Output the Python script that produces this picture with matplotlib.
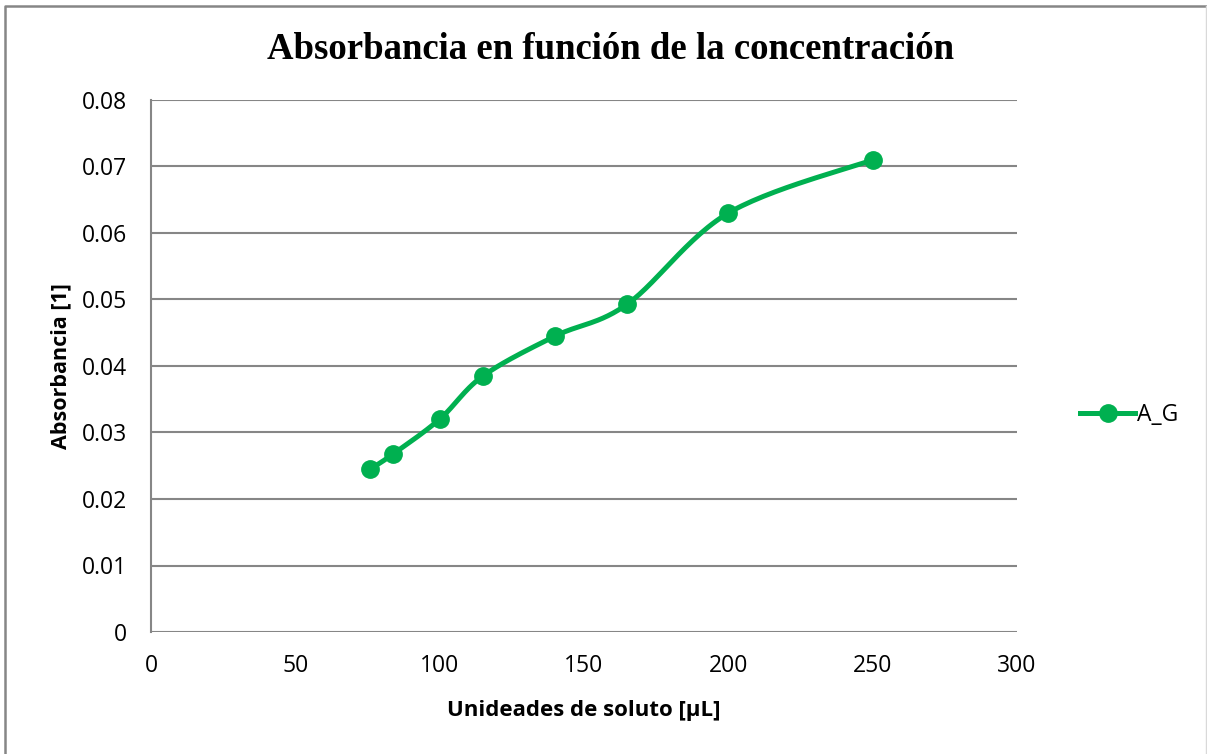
import numpy as np
import matplotlib.pyplot as plt
from matplotlib.lines import Line2D

# datos medidos
soluto = [76, 84, 100, 115, 140, 165, 200, 250]
absorbancia = [0.0245, 0.0268, 0.0320, 0.0385, 0.0445, 0.0493, 0.0630, 0.0710]
serie = 'A_G'
verde = '#00B050'
gris = '#868686'


def suavizar(x, y, n=30):
    # curva suavizada tipo Excel (bezier cubica, tension 1/6)
    p = np.column_stack([x, y]).astype(float)
    xs, ys = [], []
    for i in range(len(p) - 1):
        p0 = p[i - 1] if i > 0 else p[i]
        p1 = p[i]
        p2 = p[i + 1]
        p3 = p[i + 2] if i + 2 < len(p) else p[i + 1]
        c1 = p1 + (p2 - p0) / 6
        c2 = p2 - (p3 - p1) / 6
        t = np.linspace(0, 1, n)[:, None]
        b = (1 - t)**3 * p1 + 3 * (1 - t)**2 * t * c1 + 3 * (1 - t) * t**2 * c2 + t**3 * p2
        xs.extend(b[:, 0]); ys.extend(b[:, 1])
    return xs, ys


plt.rcParams['font.family'] = ['Open Sans', 'DejaVu Sans']
fig = plt.figure(figsize=(12.07, 7.54), dpi=100)
ax = fig.add_axes([0.1251, 0.1618, 0.8426 - 0.1251, 0.8674 - 0.1618])

sx, sy = suavizar(soluto, absorbancia)
ax.plot(sx, sy, color=verde, linewidth=3.6, solid_capstyle='round', zorder=3)
ax.plot(soluto, absorbancia, 'o', color=verde, markersize=12.5, zorder=4)

ax.set_xlim(0, 300)
ax.set_ylim(0, 0.08)
ax.set_xticks(np.arange(0, 301, 50))
ax.set_yticks(np.arange(0, 0.081, 0.01))
ax.set_yticklabels(['0'] + ['%.2f' % v for v in np.arange(0.01, 0.081, 0.01)])
ax.tick_params(length=0, labelsize=16.5)
ax.tick_params(axis='y', pad=17)
ax.tick_params(axis='x', pad=16)
ax.yaxis.grid(True, color=gris, linewidth=1.5)
ax.set_axisbelow(True)
for s in ['top', 'right', 'bottom']:
    ax.spines[s].set_visible(False)
ax.spines['left'].set_color(gris)
ax.spines['left'].set_linewidth(1.5)

ax.set_xlabel('Unideades de soluto [µL]', fontsize=16, fontweight='bold', labelpad=16)
ax.set_ylabel('Absorbancia [1]', fontsize=15.5, fontweight='bold', labelpad=8)
fig.text(0.506, 0.935, 'Absorbancia en función de la concentración', ha='center', va='center',
         fontsize=26.5, fontweight='bold', family='Liberation Serif')

leyenda = Line2D([], [], color=verde, linewidth=3.6, marker='o', markersize=12.5)
fig.legend([leyenda], [serie], loc='center left', bbox_to_anchor=(0.878, 0.449),
           frameon=False, fontsize=16.5, handlelength=2.4, handletextpad=0.05)

# marco del grafico
fig.add_artist(Line2D([0.0045, 0.0045, 1.0], [0.0, 0.992, 0.992], transform=fig.transFigure,
                      color=gris, linewidth=1.8))
fig.add_artist(Line2D([0.9995, 0.9995], [0.0, 0.992], transform=fig.transFigure,
                      color='#d9d9d9', linewidth=1.0))

fig.savefig('out.png', dpi=100)
